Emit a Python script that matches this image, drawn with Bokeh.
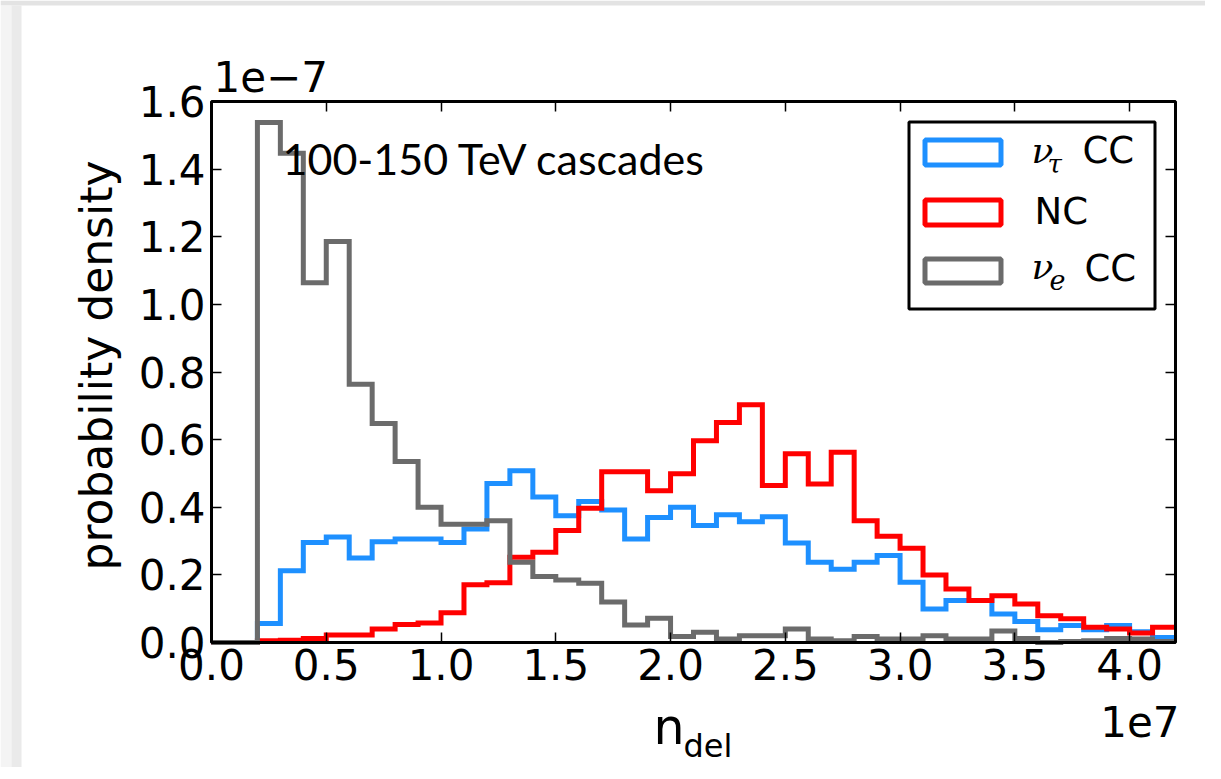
import numpy as np
from bokeh.plotting import figure
from bokeh.models import (Range1d, FixedTicker, NumeralTickFormatter,
                          Label, BoxAnnotation, LinearAxis)
from bokeh.embed import file_html
from bokeh.resources import INLINE

# ---- data (x in units of 1e7, density in units of 1e-7) ----
n_bins = 42
bin_edges = np.linspace(0.0, 4.2, n_bins + 1)

nu_tau_cc = [0.0, 0.0, 0.056, 0.212, 0.296, 0.312, 0.25, 0.298, 0.306, 0.306,
             0.296, 0.336, 0.47, 0.508, 0.43, 0.375, 0.417, 0.392, 0.306, 0.37,
             0.40, 0.346, 0.378, 0.357, 0.372, 0.294, 0.237, 0.217, 0.237, 0.257,
             0.178, 0.099, 0.124, 0.124, 0.084, 0.062, 0.038, 0.05, 0.038, 0.05,
             0.032, 0.015]
nc = [0.0, 0.0, 0.005, 0.007, 0.012, 0.022, 0.022, 0.04, 0.053, 0.058,
      0.088, 0.171, 0.177, 0.252, 0.267, 0.331, 0.397, 0.505, 0.505, 0.449,
      0.499, 0.597, 0.651, 0.703, 0.464, 0.558, 0.469, 0.563, 0.36, 0.314,
      0.279, 0.2, 0.158, 0.124, 0.138, 0.114, 0.079, 0.07, 0.045, 0.04,
      0.028, 0.045]
nu_e_cc = [0.0, 0.0, 1.538, 1.447, 1.064, 1.186, 0.764, 0.648, 0.535, 0.40,
           0.35, 0.35, 0.36, 0.237, 0.195, 0.185, 0.175, 0.12, 0.052, 0.072,
           0.018, 0.03, 0.01, 0.02, 0.02, 0.04, 0.01, 0.005, 0.018, 0.01,
           0.01, 0.02, 0.01, 0.01, 0.034, 0.012, 0.0, 0.003, 0.005, 0.012,
           0.01, 0.003]

x_ticks = [0.0, 0.5, 1.0, 1.5, 2.0, 2.5, 3.0, 3.5, 4.0]
y_ticks = [0.0, 0.2, 0.4, 0.6, 0.8, 1.0, 1.2, 1.4, 1.6]
X_MAX, Y_MAX = 4.2, 1.6

BLUE, RED, GRAY = "#1E90FF", "#FF0000", "#6B6B6B"
series = [(nu_tau_cc, BLUE), (nc, RED), (nu_e_cc, GRAY)]

# ---- layout: the frame fills the whole figure; the plot box sits inside it ----
W, H = 1205, 767
OX, OY = 1, 2                     # page offset of the figure
BOX_L, BOX_R, BOX_T, BOX_B = 212, 1176, 103, 644   # plot box on the page

def xd(page_px):
    return (page_px - BOX_L) / (BOX_R - BOX_L) * X_MAX

def yd(page_py):
    return (BOX_B - page_py) / (BOX_B - BOX_T) * Y_MAX

x_range = Range1d(xd(OX), xd(OX + W))
y_range = Range1d(yd(OY + H), yd(OY))

p = figure(width=W, height=H, output_backend="svg", toolbar_location=None,
           x_range=x_range, y_range=y_range,
           min_border_left=0, min_border_right=0,
           min_border_top=0, min_border_bottom=0)
p.xgrid.visible = False
p.ygrid.visible = False
p.outline_line_color = None
p.background_fill_color = "white"
p.border_fill_color = "white"

# light grey page edge seen at the top and left of the reference
for l_, r_, t_, b_, c_ in [(OX, OX + W, OY, 7, "#E3E3E3"),
                           (OX, 12, 7, OY + H, "#F4F4F4"),
                           (12, 22, 7, OY + H, "#EAEAEA")]:
    p.add_layout(BoxAnnotation(left=xd(l_), right=xd(r_), top=yd(t_), bottom=yd(b_),
                               fill_color=c_, fill_alpha=1.0, line_color=None,
                               level="underlay"))

TICK_FONT = "42px"

xa = p.xaxis[0]
ya = p.yaxis[0]
top = LinearAxis()
right = LinearAxis()
p.add_layout(top, "above")
p.add_layout(right, "right")

for ax, ticks, loc, bnds, show in [(xa, x_ticks, 0.0, (0, X_MAX), True),
                                   (top, x_ticks, Y_MAX, (0, X_MAX), False),
                                   (ya, y_ticks, 0.0, (0, Y_MAX), True),
                                   (right, y_ticks, X_MAX, (0, Y_MAX), False)]:
    ax.ticker = FixedTicker(ticks=ticks)
    ax.fixed_location = loc
    ax.bounds = bnds
    ax.axis_line_color = None
    ax.major_tick_in = 10
    ax.major_tick_out = 0
    ax.major_tick_line_width = 1.5
    ax.major_tick_line_color = "black"
    ax.minor_tick_line_color = None
    ax.major_label_text_font = "DejaVu Sans"
    ax.major_label_text_color = "black"
    ax.major_label_standoff = 6
    ax.formatter = NumeralTickFormatter(format="0.0")
    if show:
        ax.major_label_text_font_size = TICK_FONT
    else:
        ax.major_label_text_color = None
        ax.major_label_text_font_size = "1px"

for vals, col in series:
    y = np.append(np.array(vals), vals[-1])
    p.step(x=bin_edges, y=y, mode="after", line_color=col, line_width=5,
           line_join="miter")

# plot box (spines)
p.add_layout(BoxAnnotation(left=0, right=X_MAX, bottom=0, top=Y_MAX,
                           fill_alpha=0.0, line_color="black", line_width=3,
                           line_alpha=1.0))

BASE_FIX = 0.4   # shift from the drawn baseline to the anchor, in em

def lab(px, py, text, font="DejaVu Sans", size=37, style="normal",
        align="left", rotated=False):
    if rotated:
        px = px - BASE_FIX * size
        angle = np.pi / 2
    else:
        py = py - BASE_FIX * size
        angle = 0.0
    p.add_layout(Label(x=xd(px), y=yd(py), text=text, text_font=font,
                       text_font_size=f"{size}px", text_font_style=style,
                       text_color="black", text_baseline="alphabetic",
                       text_align=align, angle=angle))

# texts (positions are the baselines seen in the reference, page pixels)
lab(283, 177, "100-150 TeV cascades", font="Lato", size=43)
lab(214, 95, "1e\u22127", size=42)
lab(1180, 740, "1e7", size=42, align="right")
lab(654, 749, "n", size=49)
lab(684, 760, "del", size=32)
lab(115, 367, "probability density", size=44, align="center", rotated=True)

# legend
p.add_layout(BoxAnnotation(left=xd(909.5), right=xd(1155.5), top=yd(123.5),
                           bottom=yd(310.5), fill_color="white", fill_alpha=1.0,
                           line_color="black", line_width=3, line_alpha=1.0))
for top_py, bot_py, col in [(141.5, 166.5, BLUE), (201.5, 226.5, RED),
                            (260.5, 284.5, GRAY)]:
    p.add_layout(BoxAnnotation(left=xd(925.5), right=xd(1001.5), top=yd(top_py),
                               bottom=yd(bot_py), fill_alpha=0.0, line_color=col,
                               line_width=5, line_alpha=1.0))

lab(1032, 166, "\u03bd", font="DejaVu Serif", size=36, style="italic")
lab(1048, 176, "\u03c4", font="DejaVu Serif", size=26, style="italic")
lab(1083, 167, "CC")
lab(1035, 228, "NC")
lab(1032, 282, "\u03bd", font="DejaVu Serif", size=36, style="italic")
lab(1050, 292, "e", font="DejaVu Serif", size=27, style="italic")
lab(1085, 285, "CC")

open("out.html", "w").write(file_html(p, INLINE))
